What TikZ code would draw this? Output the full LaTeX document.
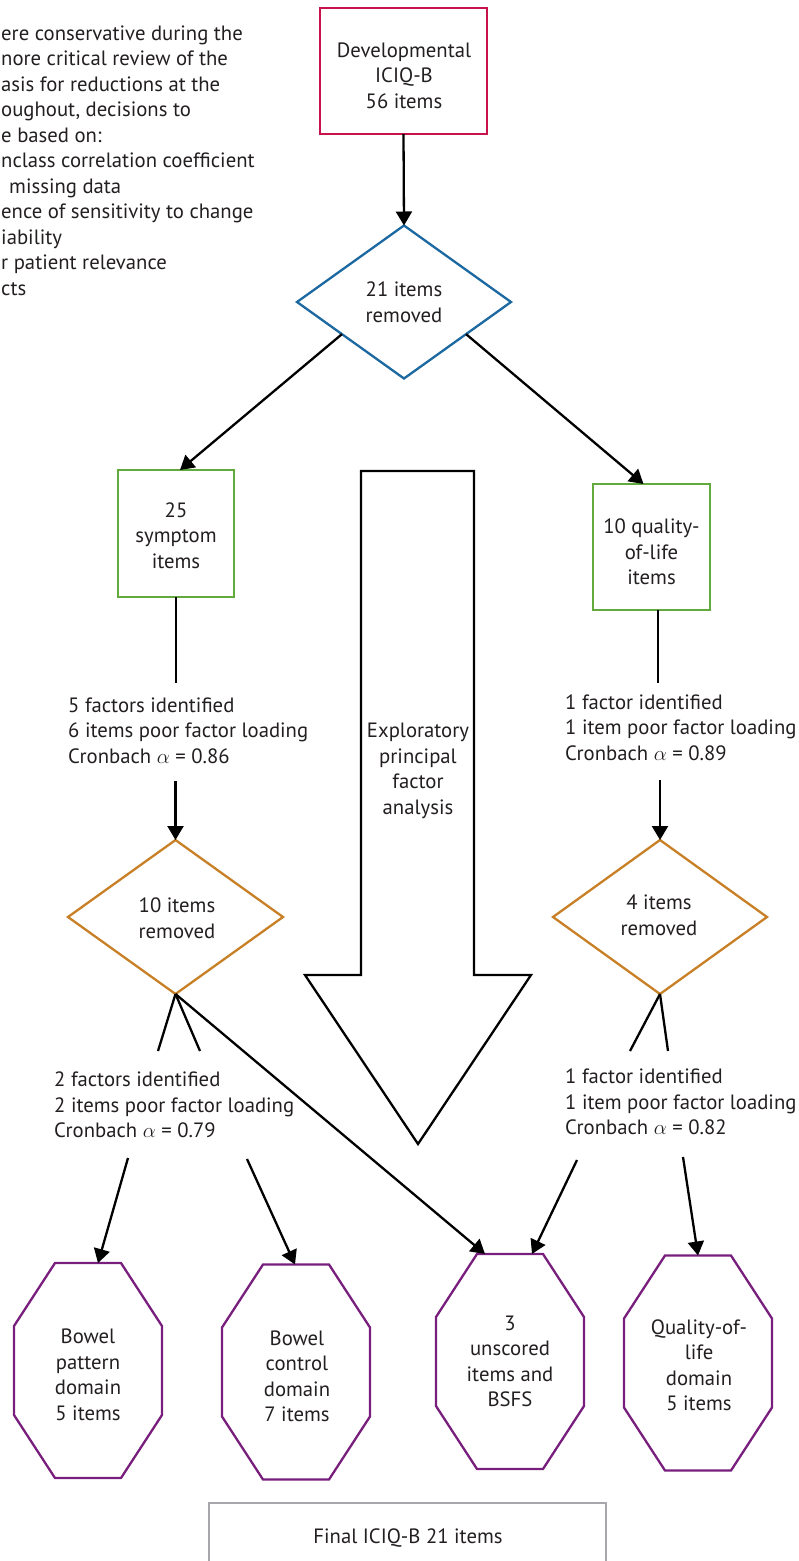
\documentclass[tikz,border=0pt]{standalone}
\usepackage{fontspec}
\setmainfont{PT Sans}
\usetikzlibrary{shapes.geometric,arrows.meta,calc}
\definecolor{cRed}{RGB}{200,18,75}
\definecolor{cBlue}{RGB}{28,104,160}
\definecolor{cGreen}{RGB}{98,170,62}
\definecolor{cOrange}{RGB}{200,128,38}
\definecolor{cPurple}{RGB}{120,30,125}
\definecolor{cGray}{RGB}{168,168,172}
\definecolor{cText}{RGB}{35,31,32}
\newlength\refw
\newcommand\myfont{\fontsize{\myfs pt}{25.5pt}\selectfont}
\newcommand\octpath[1]{%
 \draw[octline] ($(#1.north west)+(41,0)$) -- ($(#1.north east)+(-41,0)$) -- ($(#1.north east)+(0,63)$) -- ($(#1.south east)+(0,-63)$) -- ($(#1.south east)+(-41,0)$) -- ($(#1.south west)+(41,0)$) -- ($(#1.south west)+(0,-63)$) -- ($(#1.north west)+(0,63)$) -- cycle;}
\begin{document}
\settowidth\refw{\fontsize{18pt}{20pt}\selectfont 6 items poor factor loading}%
\pgfmathsetmacro\myfs{18*240/\refw}%
\begin{tikzpicture}[x=1pt,y=-1pt,
  shp/.style={draw, line width=2.3pt, inner sep=0pt, outer sep=0pt},
  box/.style={shp, rectangle},
  dia/.style={shp, diamond},
  lbl/.style={inner sep=0pt, text=cText, font=\myfont, align=center},
  lbll/.style={lbl, align=left},
  conn/.style={line width=2.3pt, draw=black},
  arr/.style={conn, -{Triangle[length=14pt,width=16pt]}},
  oct/.style={draw=none, rectangle, inner sep=0pt, outer sep=0pt, minimum width=148pt, minimum height=215pt},
  octline/.style={line width=2.3pt, draw=cPurple, line join=miter},
]
\useasboundingbox (0,0) rectangle (798,1561);

% notes (cut at left edge)
\node[lbll, anchor=west] (notes) at (1,162.5) {\strut ere conservative during the\\
\strut nore critical review of the\\
\strut asis for reductions at the\\
\strut oughout, decisions to\\
\strut e based on:\\
\strut nclass correlation coefficient\\
\strut\hspace*{8pt}missing data\\
\strut ence of sensitivity to change\\
\strut iability\\
\strut r patient relevance\\
\strut cts};

% big hollow arrow
\draw[line width=2.3pt, fill=white, line join=miter] (361,471) -- (474,471) -- (474,975) -- (531,975) -- (418,1144) -- (305,975) -- (361,975) -- cycle;
\node[lbl] (efa) at (418,771) {\strut Exploratory\\\strut principal\\\strut factor\\\strut analysis};

% top
\node[box, draw=cRed, minimum width=167pt, minimum height=126pt] (dev) at (403.5,71) {};
\node[lbl] (devt) at (404,77.5) {\strut Developmental\\\strut ICIQ-B\\\strut 56 items};
\node[dia, draw=cBlue, minimum width=214pt, minimum height=153pt] (rm1) at (404,302) {};
\node[lbl] (rm1t) at (404,304.5) {\strut 21 items\\\strut removed};
\draw[arr] (dev.south) -- (rm1.north);

% green boxes
\node[box, draw=cGreen, minimum width=116pt, minimum height=127pt] (sym) at (176,533.5) {};
\node[lbl] (symt) at (176,537.5) {\strut 25\\\strut symptom\\\strut items};
\node[box, draw=cGreen, minimum width=117pt, minimum height=126pt] (qol) at (651.5,547) {};
\node[lbl] (qolt) at (651.5,554) {\strut 10 quality-\\\strut of-life\\\strut items};
\draw[arr] ($(rm1.west)!0.42!(rm1.south)$) -- ($(sym.north)+(4,0)$);
\draw[arr] ($(rm1.east)!0.42!(rm1.south)$) -- ($(qol.north)+(-8,0)$);

% left column
\coordinate (sEnd) at (176,683);
\draw[conn] (sym.south) -- (sEnd);
\node[lbll, anchor=west] (f1) at (68,732.7) {\strut 5 factors identified\\\strut 6 items poor factor loading\\\strut Cronbach $\alpha$ = 0.86};
\node[dia, draw=cOrange, minimum width=215pt, minimum height=154pt] (rm2) at (175.5,917) {};
\node[lbl] (rm2t) at (177,920.5) {\strut 10 items\\\strut removed};
\coordinate (sArr) at (175.5,781);
\draw[arr] (sArr) -- (rm2.north);
\coordinate (sL) at (158,1051);
\coordinate (sR) at (200,1051);
\draw[conn] (rm2.south) -- (sL);
\draw[conn] (rm2.south) -- (sR);
\node[lbll, anchor=west] (f2) at (54,1107) {\strut 2 factors identified\\\strut 2 items poor factor loading\\\strut Cronbach $\alpha$ = 0.79};

% right column
\coordinate (qEnd) at (658,683);
\draw[conn] ($(qol.south)+(6.5,0)$) -- (qEnd);
\node[lbll, anchor=west] (g1) at (565,729.7) {\strut 1 factor identified\\\strut 1 item poor factor loading\\\strut Cronbach $\alpha$ = 0.89};
\node[dia, draw=cOrange, minimum width=214pt, minimum height=154pt] (rm3) at (660,917) {};
\node[lbl] (rm3t) at (659,917.5) {\strut 4 items\\\strut removed};
\coordinate (qArr) at (660,780);
\draw[arr] (qArr) -- (rm3.north);
\coordinate (qL) at (630,1051);
\coordinate (qR) at (668,1051);
\draw[conn] (rm3.south) -- (qL);
\draw[conn] (rm3.south) -- (qR);
\node[lbll, anchor=west] (g2) at (565,1104.3) {\strut 1 factor identified\\\strut 1 item poor factor loading\\\strut Cronbach $\alpha$ = 0.82};

% octagons
\node[oct] (o1) at (88,1370.5) {};
\node[oct] (o2) at (296,1372) {};
\node[oct] (o3) at (510,1361.5) {};
\node[oct] (o4) at (698,1363) {};
\octpath{o1}\octpath{o2}\octpath{o3}\octpath{o4}
\node[lbl] (o1t) at (88,1377) {\strut Bowel\\\strut pattern\\\strut domain\\\strut 5 items};
\node[lbl] (o2t) at (297,1378.5) {\strut Bowel\\\strut control\\\strut domain\\\strut 7 items};
\node[lbl] (o3t) at (510,1363.5) {\strut 3\\\strut unscored\\\strut items and\\\strut BSFS};
\node[lbl] (o4t) at (699,1367.5) {\strut Quality-of-\\\strut life\\\strut domain\\\strut 5 items};

\coordinate (p1) at (128,1158);
\coordinate (p2) at (247,1159);
\coordinate (p3) at (577,1160);
\coordinate (p4) at (683,1157);
\draw[arr] (p1) -- ($(o1.north)+(10,0)$);
\draw[arr] (p2) -- ($(o2.north)+(-1,0)$);
\draw[arr] (rm2.south) -- ($(o3.north)+(-25,0)$);
\draw[arr] (p3) -- ($(o3.north)+(22,0)$);
\draw[arr] (p4) -- (o4.north);

% final box (cut at bottom edge)
\draw[line width=2.3pt, draw=cGray] (209,1561) -- (209,1503) -- (606,1503) -- (606,1561);
\node[lbl] (fin) at (408,1538) {\strut Final ICIQ-B 21 items};
\end{tikzpicture}
\end{document}
